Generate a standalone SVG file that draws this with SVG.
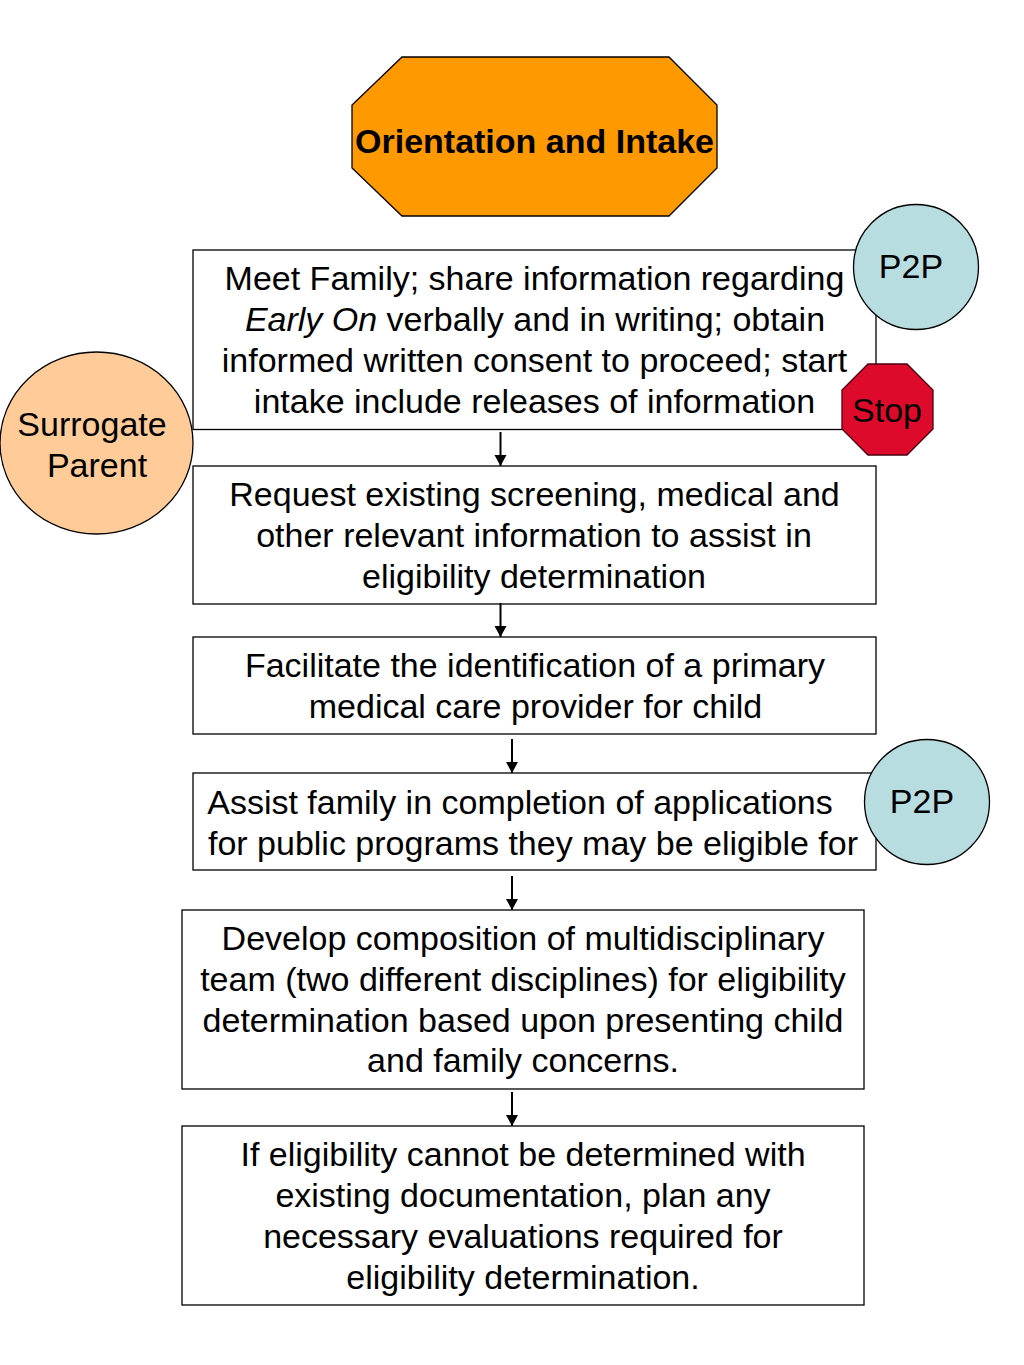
<svg xmlns="http://www.w3.org/2000/svg" width="1024" height="1365" viewBox="0 0 1024 1365">
<style>
text{font-family:"Liberation Sans",Arial,sans-serif;font-size:34px;fill:#000;text-anchor:middle}
.box{fill:#fff;stroke:#000;stroke-width:1.3}
.c{stroke:#000;stroke-width:1.3}
.con{stroke:#000;stroke-width:2;fill:none}
</style>
<defs><marker id="a" markerUnits="userSpaceOnUse" markerWidth="12" markerHeight="14" refX="11" refY="6" orient="auto"><path d="M0 0L11 6L0 12Z" fill="#000"/></marker></defs>
<rect width="1024" height="1365" fill="#fff"/>
<g id="n-orientation"><polygon class="c" fill="#ff9900" points="402,57 669,57 717,105 717,168 669,216 402,216 352,168 352,105"/><text x="534.500" y="153" style="font-weight:bold">Orientation and Intake</text></g>
<g id="n-meet"><rect class="box" x="193" y="250" width="683" height="179.500"/>
<text x="534.500" y="290">Meet Family; share information regarding</text>
<text x="535" y="331"><tspan font-style="italic">Early On</tspan> verbally and in writing; obtain</text>
<text x="534.500" y="372">informed written consent to proceed; start</text>
<text x="534.500" y="413">intake include releases of information</text></g>
<g id="n-p2p1"><circle class="c" fill="#b8dde1" cx="916" cy="267" r="62.500"/><text x="911" y="278">P2P</text></g>
<g id="n-stop"><polygon fill="#dd0a2c" stroke="#4a0010" stroke-width="1.300" points="868,364 907,364 933,390 933,429 907,455 868,455 842,429 842,390"/><text x="887" y="422">Stop</text></g>
<g id="n-surrogate"><ellipse class="c" fill="#ffcc99" cx="96.500" cy="443" rx="96.500" ry="91"/><text x="92" y="435.500">Surrogate</text><text x="97" y="476.500">Parent</text></g>
<g id="n-request"><rect class="box" x="193" y="466" width="683" height="138"/>
<text x="534.500" y="506">Request existing screening, medical and</text>
<text x="534" y="547">other relevant information to assist in</text>
<text x="534" y="588">eligibility determination</text></g>
<g id="n-facilitate"><rect class="box" x="193" y="637" width="683" height="97"/>
<text x="535" y="677">Facilitate the identification of a primary</text>
<text x="535.500" y="718">medical care provider for child</text></g>
<g id="n-assist"><rect class="box" x="193" y="773" width="683" height="97"/>
<text x="520" y="813.500">Assist family in completion of applications</text>
<text x="533" y="854.500">for public programs they may be eligible for</text></g>
<g id="n-p2p2"><circle class="c" fill="#b8dde1" cx="927" cy="802" r="62.500"/><text x="922" y="813">P2P</text></g>
<g id="n-develop"><rect class="box" x="182" y="910" width="682" height="179"/>
<text x="523" y="950">Develop composition of multidisciplinary</text>
<text x="523" y="990.500">team (two different disciplines) for eligibility</text>
<text x="523" y="1031.500">determination based upon presenting child</text>
<text x="523" y="1072">and family concerns.</text></g>
<g id="n-if"><rect class="box" x="182" y="1126" width="682" height="179"/>
<text x="523" y="1166">If eligibility cannot be determined with</text>
<text x="523" y="1207">existing documentation, plan any</text>
<text x="523" y="1248">necessary evaluations required for</text>
<text x="523" y="1289">eligibility determination.</text></g>
<g id="connectors">
<line class="con" x1="500.500" y1="432" x2="500.500" y2="466" marker-end="url(#a)"/>
<line class="con" x1="500.500" y1="603" x2="500.500" y2="637" marker-end="url(#a)"/>
<line class="con" x1="512" y1="739" x2="512" y2="773" marker-end="url(#a)"/>
<line class="con" x1="512" y1="876" x2="512" y2="910" marker-end="url(#a)"/>
<line class="con" x1="512" y1="1092" x2="512" y2="1126" marker-end="url(#a)"/>
</g>
</svg>
